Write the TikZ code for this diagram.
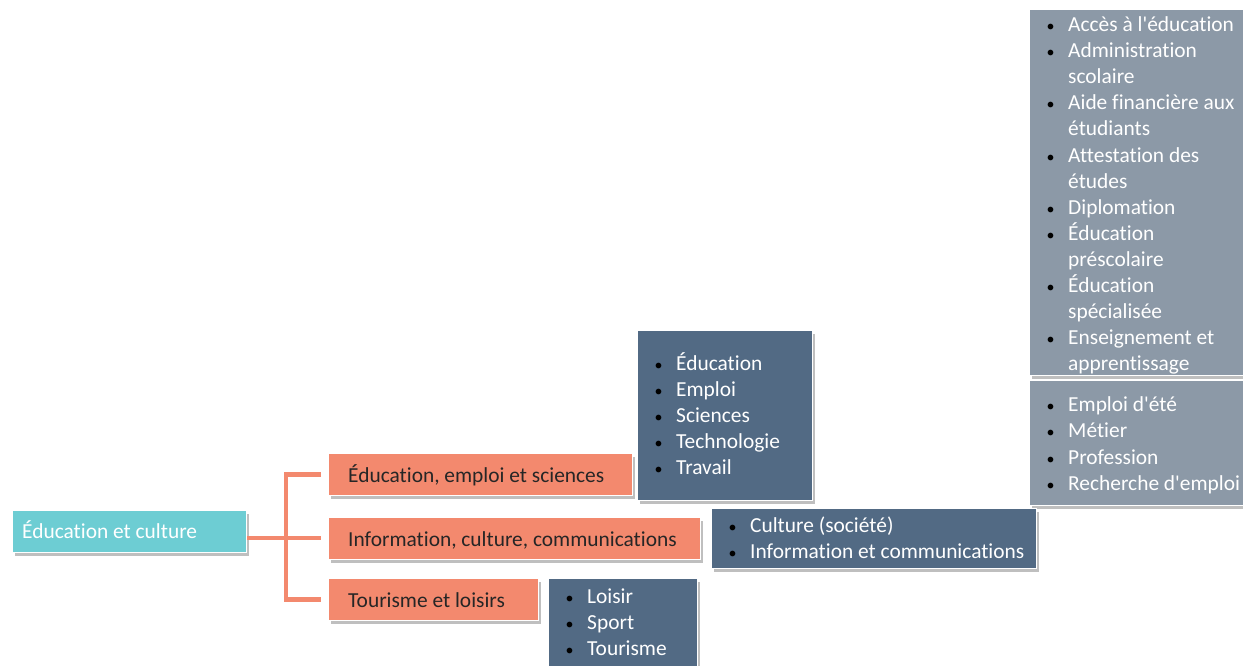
\documentclass[tikz,border=0pt]{standalone}
\usepackage{fontspec}
\setmainfont{Carlito}[Ligatures={NoCommon}]
\usetikzlibrary{shadows}
\definecolor{teal1}{HTML}{6DCDD3}
\definecolor{salmon1}{HTML}{F3896E}
\definecolor{slate1}{HTML}{526A84}
\definecolor{gray1}{HTML}{8C99A7}
\newcommand{\bl}{\llap{{\fontsize{16}{16}\selectfont\textcolor{black}{•}}\hspace{13.5pt}}}
\tikzset{
  box/.style={draw=white, line width=1.2pt, inner sep=0pt, anchor=north west,
    drop shadow={shadow xshift=2pt, shadow yshift=-3pt, opacity=0.25, fill=black}},
  rootbox/.style={box, fill=teal1},
  catbox/.style={box, fill=salmon1},
  listbox/.style={box, fill=slate1},
  greybox/.style={box, fill=gray1},
  txt/.style={anchor=west, inner sep=0pt, font=\fontsize{21.4}{26}\selectfont, text height=17pt, text depth=3pt},
  wtxt/.style={txt, text=white},
  btxt/.style={txt, text=black!85},
  link/.style={draw=salmon1, line width=4.5pt}
}
\begin{document}
\begin{tikzpicture}[x=1pt,y=-1pt]
\useasboundingbox (0,0) rectangle (1243,665);
% boxes
\node[greybox, minimum width=216pt, minimum height=366pt] (D) at (1029,9) {};
\node[greybox, minimum width=216pt, minimum height=125pt] (E) at (1029,380) {};
\node[listbox, minimum width=175pt, minimum height=170pt] (A) at (637,330) {};
\node[listbox, minimum width=325pt, minimum height=60pt] (B) at (711,508) {};
\node[listbox, minimum width=149pt, minimum height=90pt] (C) at (548,578) {};
\node[rootbox, minimum width=234pt, minimum height=42pt] (R) at (12,510) {};
\node[catbox, minimum width=304pt, minimum height=42pt] (K1) at (328,453) {};
\node[catbox, minimum width=372pt, minimum height=42pt] (K2) at (328,517) {};
\node[catbox, minimum width=210pt, minimum height=42pt] (K3) at (328,578) {};
% connectors
\coordinate (J) at (286,538);
\coordinate (S) at (R.east |- J);
\draw[link] (S) -- ([xshift=-7pt]K2.west |- J);
\draw[link] ([xshift=-7pt]K1.west) -| (J) |- ([xshift=-7pt]K3.west);
% labels
\node[wtxt] (tR) at (22,531) {Éducation et culture};
\node[btxt] (t1) at (348,475) {Éducation, emploi et sciences};
\node[btxt] (t2) at (348,539) {Information, culture, communications};
\node[btxt] (t3) at (348,600) {Tourisme et loisirs};
% list A
\node[wtxt] (a1) at (676,363) {\bl Éducation};
\node[wtxt] (a2) at (676,389) {\bl Emploi};
\node[wtxt] (a3) at (676,415) {\bl Sciences};
\node[wtxt] (a4) at (676,441) {\bl Technologie};
\node[wtxt] (a5) at (676,467) {\bl Travail};
% list B
\node[wtxt] (b1) at (750,525) {\bl Culture (société)};
\node[wtxt] (b2) at (750,551) {\bl Information et communications};
% list C
\node[wtxt] (c1) at (587,596) {\bl Loisir};
\node[wtxt] (c2) at (587,622) {\bl Sport};
\node[wtxt] (c3) at (587,648) {\bl Tourisme};
% list D
\node[wtxt] (d1) at (1068,24) {\bl Accès à l\textquotesingle éducation};
\node[wtxt] (d2) at (1068,50) {\bl Administration};
\node[wtxt] (d2b) at (1068,76) {scolaire};
\node[wtxt] (d3) at (1068,102) {\bl Aide financière aux};
\node[wtxt] (d3b) at (1068,128) {étudiants};
\node[wtxt] (d4) at (1068,155) {\bl Attestation des};
\node[wtxt] (d4b) at (1068,181) {études};
\node[wtxt] (d5) at (1068,207) {\bl Diplomation};
\node[wtxt] (d6) at (1068,233) {\bl Éducation};
\node[wtxt] (d6b) at (1068,259) {préscolaire};
\node[wtxt] (d7) at (1068,285) {\bl Éducation};
\node[wtxt] (d7b) at (1068,311) {spécialisée};
\node[wtxt] (d8) at (1068,337) {\bl Enseignement et};
\node[wtxt] (d8b) at (1068,363) {apprentissage};
% list E
\node[wtxt] (e1) at (1068,404) {\bl Emploi d\textquotesingle été};
\node[wtxt] (e2) at (1068,430) {\bl Métier};
\node[wtxt] (e3) at (1068,457) {\bl Profession};
\node[wtxt] (e4) at (1068,483) {\bl Recherche d\textquotesingle emploi};
\end{tikzpicture}
\end{document}
